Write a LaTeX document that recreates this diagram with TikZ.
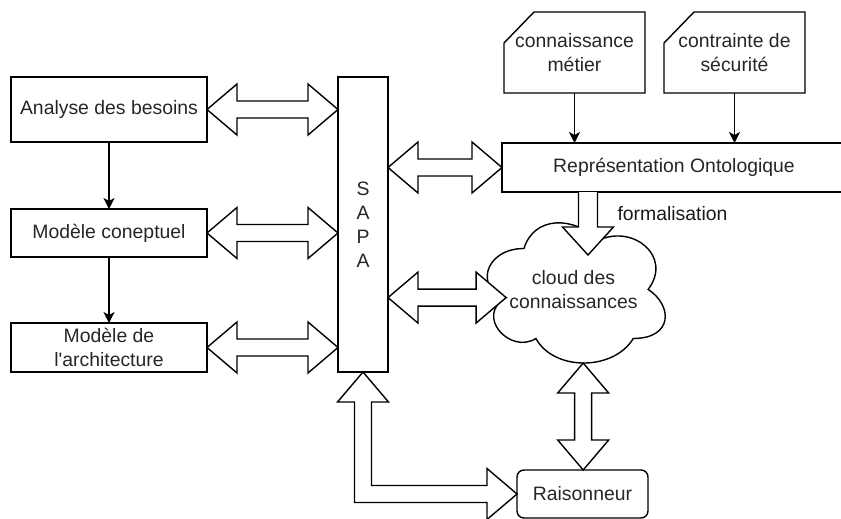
\documentclass[tikz,border=0pt]{standalone}
\usepackage{fontspec}
\setmainfont{Liberation Sans}[Ligatures=TeXOff]
\usetikzlibrary{calc,arrows.meta}
\newcommand{\harrow}[2]{\draw[barrow] let \p1=(#1), \p2=(#2) in
  (\x1,\y1) -- (\x1+30pt,\y1+25.5pt) -- (\x1+30pt,\y1+8.5pt) -- (\x2-30pt,\y1+8.5pt) -- (\x2-30pt,\y1+25.5pt) -- (\x2,\y1)
  -- (\x2-30pt,\y1-25.5pt) -- (\x2-30pt,\y1-8.5pt) -- (\x1+30pt,\y1-8.5pt) -- (\x1+30pt,\y1-25.5pt) -- cycle;}
\newcommand{\varrow}[2]{\draw[barrow] let \p1=(#1), \p2=(#2) in
  (\x1,\y1) -- (\x1+25.5pt,\y1-30pt) -- (\x1+8.5pt,\y1-30pt) -- (\x1+8.5pt,\y2+30pt) -- (\x1+25.5pt,\y2+30pt) -- (\x1,\y2)
  -- (\x1-25.5pt,\y2+30pt) -- (\x1-8.5pt,\y2+30pt) -- (\x1-8.5pt,\y1-30pt) -- (\x1-25.5pt,\y1-30pt) -- cycle;}
\tikzset{
  box/.style={draw, rectangle, line width=1.4pt, inner sep=0pt, outer sep=0pt, align=center,
    text=black!85, font=\fontsize{19.4}{23.5}\selectfont},
  card/.style={rectangle, inner sep=0pt, outer sep=0pt, align=center, minimum width=141pt, minimum height=81pt,
    text=black!85, font=\fontsize{19.4}{23.5}\selectfont},
  barrow/.style={draw, line width=1.4pt, fill=white, line join=miter},
  arr/.style={draw, line width=1.4pt, -{Stealth[length=11pt,width=11pt,inset=3pt]}},
  lbl/.style={inner sep=0pt, text=black!85, font=\fontsize{19.4}{23.5}\selectfont, align=center}
}
\begin{document}
\begin{tikzpicture}[x=1pt,y=-1pt]
\useasboundingbox (0,0) rectangle (841,519);
\clip (0,0) rectangle (841,519);
% left column
\node[box, minimum width=196pt, minimum height=65pt] (ana) at (109,109.5) {Analyse des besoins};
\node[box, minimum width=196pt, minimum height=48pt] (mc) at (109,233) {Modèle coneptuel};
\node[box, minimum width=196pt, minimum height=49pt] (ma) at (109,347.5) {Modèle de\\l'architecture};
% SAPA
\node[box, minimum width=50pt, minimum height=295pt, font=\fontsize{19.4}{24}\selectfont] (sapa) at (363,224.5) {S\\A\\P\\A};
% cards
\node[card] (cm) at (574.5,52.5) {connaissance\\métier};
\draw[line width=1.4pt, line join=miter] ([yshift=-31pt]cm.north west) -- ([xshift=30pt]cm.north west) -- (cm.north east) -- (cm.south east) -- (cm.south west) -- cycle;
\node[card] (cs) at (734.5,52.5) {contrainte de\\sécurité};
\draw[line width=1.4pt, line join=miter] ([yshift=-31pt]cs.north west) -- ([xshift=30pt]cs.north west) -- (cs.north east) -- (cs.south east) -- (cs.south west) -- cycle;
% representation
\node[box, minimum width=344pt, minimum height=49pt] (rep) at (674,167.5) {Représentation Ontologique};
% cloud
\begin{scope}[shift={(474.3,207.6)}, x=198.7pt, y=-163.6pt]
\draw[line width=1.4pt, fill=white] (0.25,0.25) .. controls (0.05,0.25) and (0,0.5) .. (0.16,0.55)
  .. controls (0,0.66) and (0.18,0.9) .. (0.31,0.8)
  .. controls (0.4,1) and (0.7,1) .. (0.8,0.8)
  .. controls (1,0.8) and (1,0.6) .. (0.875,0.5)
  .. controls (1,0.3) and (0.8,0.1) .. (0.625,0.2)
  .. controls (0.5,0.05) and (0.3,0.05) .. (0.25,0.25) -- cycle;
\coordinate (cloudW) at (0.16,0.55);
\coordinate (cloudS) at (0.548,0.95);
\end{scope}
\node[lbl, font=\fontsize{19.4}{24}\selectfont] (cloud) at (573.5,290) {cloud des\\connaissances};
% raisonneur
\node[box, rounded corners=7pt, minimum width=131pt, minimum height=48pt] (rai) at (582.5,494) {Raisonneur};
% simple connectors
\draw[arr] (ana.south) -- (mc.north);
\draw[arr] (mc.south) -- (ma.north);
\draw[arr] (cm.south) -- (cm.south |- rep.north);
\draw[arr] (cs.south) -- (cs.south |- rep.north);
% block arrows
\harrow{ana.east}{ana.east -| sapa.west}
\harrow{mc.east}{mc.east -| sapa.west}
\harrow{ma.east}{ma.east -| sapa.west}
\harrow{rep.west -| sapa.east}{rep.west}
\harrow{cloudW -| sapa.east}{cloudW}
\varrow{cloudS}{cloudS |- rai.north}
% formalisation arrow
\coordinate (ftop) at ([xshift=86pt]rep.south west);
\coordinate (ftip) at (588,255);
\draw[barrow] let \p1=(ftop), \p2=(ftip) in
  (\x1-9.5pt,\y1) -- (\x1-9.5pt,\y2+28pt) -- (\x1-25.5pt,\y2+28pt) -- (\x1,\y2) -- (\x1+25.5pt,\y2+28pt) -- (\x1+9.5pt,\y2+28pt) -- (\x1+9.5pt,\y1);
\node[lbl, text=black!90] (form) at (672.5,214) {formalisation};
% L-shaped arrow SAPA <-> Raisonneur
\draw[barrow] let \p1=(sapa.south), \p2=(rai.west) in
  (\x1,\y1) -- (\x1+25.5pt,\y1-30pt) -- (\x1+8.5pt,\y1-30pt) -- (\x1+8.5pt,\y2+8.5pt) -- (\x2-30pt,\y2+8.5pt) -- (\x2-30pt,\y2+25.5pt) -- (\x2,\y2)
  -- (\x2-30pt,\y2-25.5pt) -- (\x2-30pt,\y2-8.5pt) -- (\x1-8.5pt,\y2-8.5pt) -- (\x1-8.5pt,\y1-30pt) -- (\x1-25.5pt,\y1-30pt) -- cycle;
\end{tikzpicture}
\end{document}
